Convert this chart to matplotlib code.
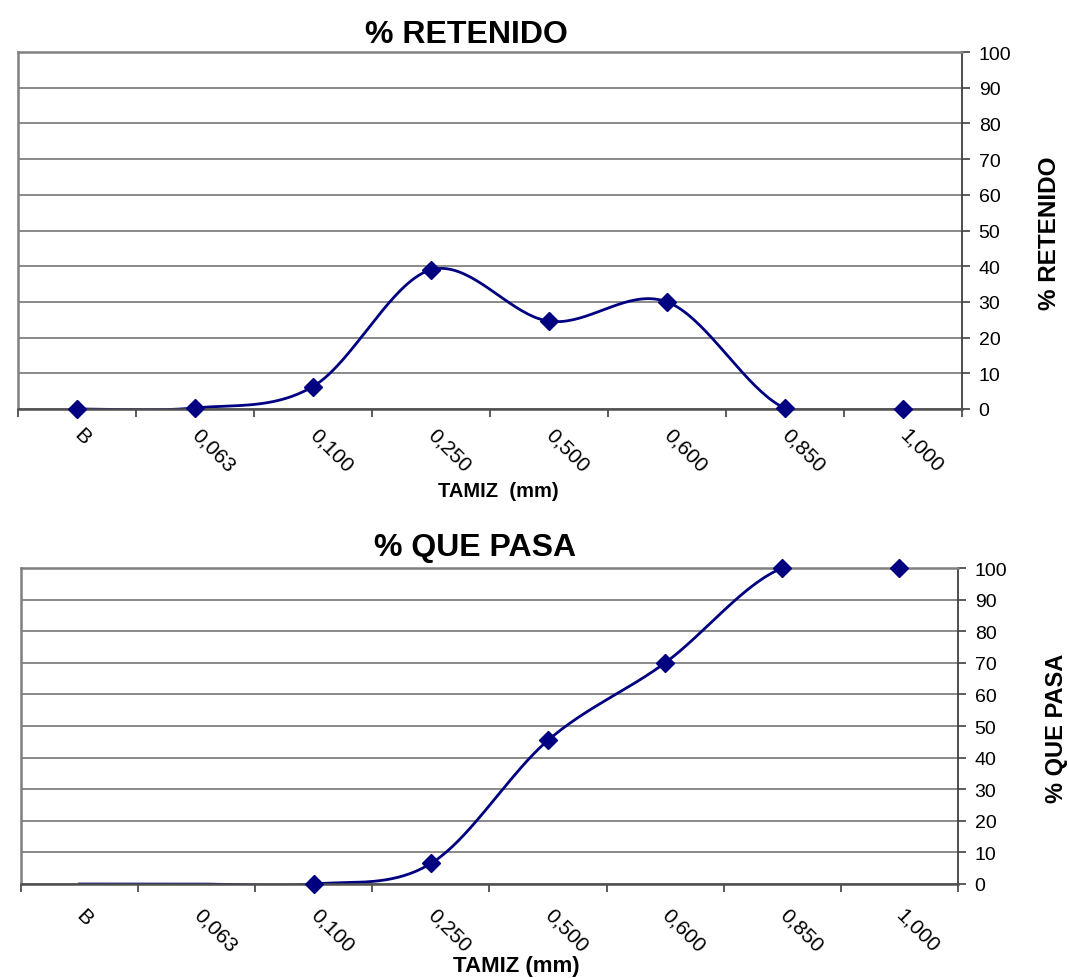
import matplotlib
matplotlib.use("Agg")
import matplotlib.pyplot as plt
import numpy as np

plt.rcParams['font.family'] = ['Liberation Sans', 'DejaVu Sans']

# Datos del ensayo granulometrico
tamices = ["B", "0,063", "0,100", "0,250", "0,500", "0,600", "0,850", "1,000"]
retenido = [0, 0.3, 6.3, 39, 24.6, 30, 0.2, 0]
pasa = [0, 0, 0, 6.5, 45.5, 70, 100, 100]
pasa_marcas = [False, False, True, True, True, True, True, True]  # Excel hides the first two markers

yticks = list(range(0, 101, 10))
navy = "#000080"
grid_gray = "#808080"


def smooth(xs, ys, n=40):
    # Catmull-Rom bezier like Excel's "smoothed line"
    px = np.array(xs, dtype=float)
    py = np.array(ys, dtype=float)
    px = np.concatenate([[px[0]], px, [px[-1]]])
    py = np.concatenate([[py[0]], py, [py[-1]]])
    out_x, out_y = [], []
    t = np.linspace(0, 1, n)
    for i in range(1, len(px) - 2):
        p0 = np.array([px[i], py[i]])
        p3 = np.array([px[i + 1], py[i + 1]])
        c1 = p0 + (np.array([px[i + 1], py[i + 1]]) - np.array([px[i - 1], py[i - 1]])) / 6
        c2 = p3 - (np.array([px[i + 2], py[i + 2]]) - np.array([px[i], py[i]])) / 6
        b = ((1 - t) ** 3)[:, None] * p0 + (3 * (1 - t) ** 2 * t)[:, None] * c1 \
            + (3 * (1 - t) * t ** 2)[:, None] * c2 + (t ** 3)[:, None] * p3
        out_x.extend(b[:, 0])
        out_y.extend(b[:, 1])
    return out_x, out_y


def style_axes(ax, label_pad):
    n = len(tamices)
    ax.set_xlim(-0.5, n - 0.5)
    ax.set_ylim(0, 100)
    ax.yaxis.tick_right()
    ax.set_yticks(yticks)
    ax.tick_params(axis='y', labelsize=14, length=6, width=1.2, color="#404040", pad=6)
    ax.set_xticks(range(n))
    ax.set_xticklabels(tamices)
    ax.set_xticks(np.arange(-0.5, n, 1), minor=True)
    ax.tick_params(axis='x', which='major', length=0, labelsize=15, pad=label_pad)
    ax.tick_params(axis='x', which='minor', length=6, width=1.2, color="#404040")
    plt.setp(ax.get_xticklabels(), rotation=-45, ha='left', va='center', rotation_mode='anchor')
    ax.grid(axis='y', color=grid_gray, linewidth=1.3)
    ax.set_axisbelow(True)
    for side in ["left", "top"]:
        ax.spines[side].set_color(grid_gray)
        ax.spines[side].set_linewidth(1.8)
    ax.spines["right"].set_color("#404040")
    ax.spines["right"].set_linewidth(1.3)
    ax.spines["bottom"].set_color("#505050")
    ax.spines["bottom"].set_linewidth(1.8)


fig = plt.figure(figsize=(10.69, 9.79), dpi=100)

# Grafico % retenido
ax1 = fig.add_axes([18 / 1069, 1 - 410 / 979, 944 / 1069, 357 / 979])
x = np.arange(len(tamices))
sx, sy = smooth(x, retenido)
ax1.plot(sx, sy, color=navy, linewidth=2)
ax1.plot(x, retenido, linestyle='none', marker='D', markersize=9, color=navy, clip_on=False, zorder=5)
style_axes(ax1, 16)
fig.text(466 / 1069, 1 - 35 / 979, "% RETENIDO", fontsize=23, fontweight='bold', ha='center', va='center')
fig.text(498 / 1069, 1 - 492 / 979, "TAMIZ  (mm)", fontsize=14.5, fontweight='bold', ha='center', va='center')
fig.text(1050 / 1069, 1 - 233 / 979, "% RETENIDO", fontsize=17.5, fontweight='bold', rotation=90,
         ha='center', va='center')

# Grafico % que pasa
ax2 = fig.add_axes([21 / 1069, 1 - 885 / 979, 937 / 1069, 316 / 979])
sx, sy = smooth(x, pasa)
ax2.plot(sx, sy, color=navy, linewidth=2)
xm = [xi for xi, m in zip(x, pasa_marcas) if m]
ym = [yi for yi, m in zip(pasa, pasa_marcas) if m]
ax2.plot(xm, ym, linestyle='none', marker='D', markersize=9, color=navy, clip_on=False, zorder=5)
style_axes(ax2, 20)
fig.text(475 / 1069, 1 - 548 / 979, "% QUE PASA", fontsize=23, fontweight='bold', ha='center', va='center')
fig.text(516 / 1069, 1 - 967 / 979, "TAMIZ (mm)", fontsize=16, fontweight='bold', ha='center', va='center')
fig.text(1056 / 1069, 1 - 728 / 979, "% QUE PASA", fontsize=17, fontweight='bold', rotation=90,
         ha='center', va='center')

fig.savefig("out.png", dpi=100)
